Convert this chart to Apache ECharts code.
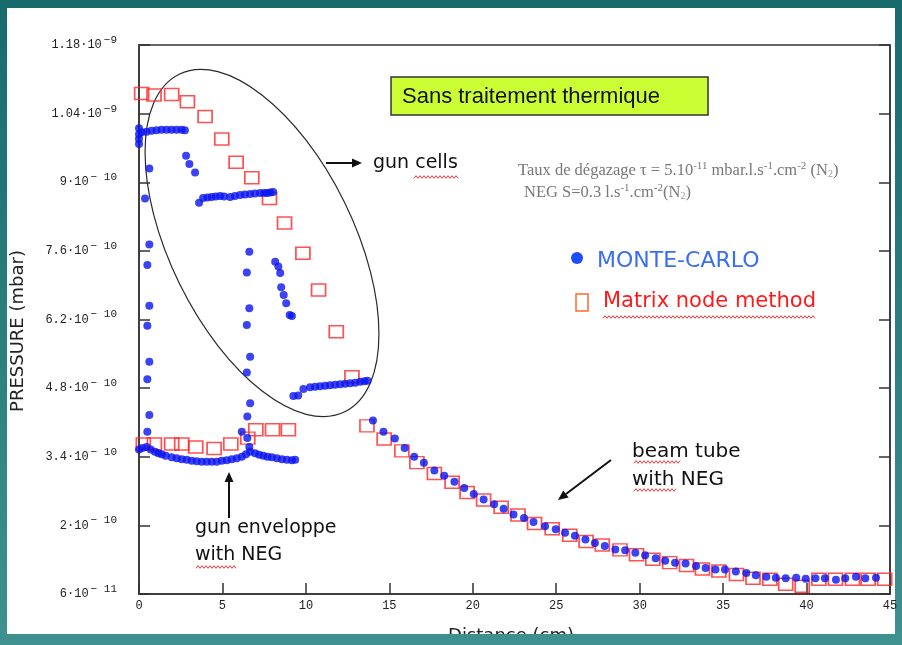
<!DOCTYPE html>
<html><head><meta charset="utf-8">
<script src="https://cdn.jsdelivr.net/npm/echarts@6/dist/echarts.min.js"></script>
<style>
html,body{margin:0;padding:0;width:902px;height:645px;overflow:hidden;}
body{background:linear-gradient(#176b6d,#3e918f);position:relative;}
#paper{position:absolute;left:7px;top:8px;width:888px;height:626px;background:#fff;}
#chart{position:absolute;left:0;top:0;width:902px;height:645px;}
#band{position:absolute;left:0;top:634px;width:902px;height:11px;background:linear-gradient(#176b6d,#3e918f);background-size:902px 645px;background-position:0 -634px;}
</style></head><body>
<div id="paper"></div><div id="chart"></div><div id="band"></div>
<script>
// Distances in cm, pressures in units of 1e-10 mbar
// MONTE-CARLO, gun region (cells + envelope)
const mcGunDistance = [0,0,0,0,
  0.15,0.45,0.75,1.05,1.35,1.65,1.95,2.25,2.55,2.75,
  2.82,3.02,3.36,
  3.60,3.84,4.10,4.35,4.60,4.86,5.10,5.46,5.75,6.06,6.35,6.66,6.95,7.26,7.50,7.68,7.86,8.04,
  0.62,0.36,0.62,0.50,0.62,0.50,0.62,0.50,0.62,0.50,
  0.00,0.20,0.46,0.70,0.96,1.16,1.36,1.60,1.96,2.26,2.56,2.86,3.16,3.46,3.76,4.06,4.36,4.66,4.96,5.26,5.56,5.86,6.16,6.41,6.66,6.96,7.20,7.45,7.70,7.96,8.26,8.56,8.86,9.16,9.36,
  6.61,6.46,6.61,6.46,6.66,6.46,6.66,6.49,6.16,6.49,6.61,
  8.16,8.35,8.46,8.52,8.67,8.82,9.03,9.16,
  9.25,9.54,9.85,10.25,10.55,10.85,11.15,11.45,11.75,12.05,12.35,12.65,12.95,13.25,13.50,13.69];
const mcGunPressure = [10.10,9.98,9.88,9.78,
  10.02,10.03,10.05,10.06,10.07,10.07,10.07,10.07,10.07,10.06,
  9.54,9.37,9.20,
  8.58,8.68,8.69,8.70,8.71,8.72,8.71,8.70,8.72,8.74,8.75,8.76,8.77,8.78,8.78,8.78,8.79,8.80,
  9.28,8.67,7.73,7.31,6.48,6.07,5.34,4.98,4.25,3.91,
  3.55,3.58,3.60,3.55,3.50,3.47,3.45,3.42,3.39,3.37,3.35,3.34,3.32,3.31,3.30,3.30,3.30,3.30,3.32,3.33,3.35,3.37,3.40,3.45,3.50,3.47,3.44,3.42,3.40,3.39,3.37,3.35,3.34,3.33,3.34,
  7.58,7.16,6.43,6.09,5.44,5.12,4.49,4.22,3.91,3.78,3.60,
  7.38,7.28,7.15,6.86,6.70,6.53,6.29,6.27,
  4.64,4.65,4.78,4.82,4.83,4.84,4.85,4.86,4.87,4.88,4.89,4.90,4.91,4.93,4.94,4.95];
// MONTE-CARLO, beam tube
const mcTubeDistance = [14.02,14.65,15.33,15.92,16.49,17.07,17.70,18.29,18.90,19.49,20.06,20.65,21.28,21.85,22.44,23.07,23.64,24.33,24.97,25.53,26.12,26.75,27.32,27.91,28.54,29.13,29.74,30.33,30.96,31.53,32.12,32.75,33.38,33.95,34.54,35.11,35.76,36.39,36.96,37.59,38.16,38.75,39.38,39.95,40.53,41.10,41.76,42.32,42.96,43.52,44.16];
const mcTubePressure = [4.14,3.91,3.77,3.58,3.40,3.28,3.12,3.01,2.89,2.76,2.64,2.53,2.43,2.34,2.22,2.15,2.07,1.98,1.92,1.85,1.79,1.71,1.64,1.58,1.51,1.49,1.44,1.39,1.33,1.28,1.24,1.22,1.17,1.13,1.10,1.10,1.06,1.03,0.98,0.95,0.93,0.92,0.93,0.91,0.92,0.92,0.89,0.92,0.95,0.92,0.93];
// Matrix node method
const mnCellDistance = [0.16,0.90,1.96,2.90,3.96,4.96,5.82,6.76,7.82,8.72,9.82,10.76,11.82,12.76];
const mnCellPressure = [10.81,10.78,10.79,10.64,10.34,9.88,9.41,9.09,8.67,8.17,7.55,6.80,5.95,5.03];
const mnEnvDistance = [0.26,0.92,1.96,2.56,3.40,4.50,5.50,6.52,7.00,8.00,8.95];
const mnEnvPressure = [3.66,3.66,3.66,3.66,3.60,3.57,3.66,3.78,3.95,3.95,3.95];
const mnTubeDistance = [13.66,14.69,15.75,16.65,17.70,18.76,19.66,20.65,21.70,22.71,23.70,24.76,25.81,26.79,27.76,28.82,29.81,30.79,31.80,32.81,33.76,34.75,35.80,36.79,37.80,38.75,39.74,40.74,41.73,42.75,43.69,44.68];
const mnTubePressure = [4.03,3.76,3.52,3.28,3.06,2.88,2.67,2.52,2.37,2.21,2.04,1.93,1.80,1.67,1.60,1.50,1.40,1.31,1.24,1.18,1.11,1.07,1.00,0.92,0.90,0.80,0.76,0.90,0.90,0.90,0.90,0.90];
// Axis ticks
const yTickValues = [0.6,2.0,3.4,4.8,6.2,7.6,9.0,10.4,11.8];
const yTickMantissa = ['6','2','3.4','4.8','6.2','7.6','9','1.04','1.18'];
const yTickExponent = ['\u2212 11','\u2212 10','\u2212 10','\u2212 10','\u2212 10','\u2212 10','\u2212 10','\u22129','\u22129'];
const xTickValues = [0,5,10,15,20,25,30,35,40,45];

function pairs(xs, ys){ return xs.map((x,i)=>[x, ys[i]]); }
const mcData = pairs(mcGunDistance, mcGunPressure).concat(pairs(mcTubeDistance, mcTubePressure));
const mnData = pairs(mnCellDistance, mnCellPressure).concat(pairs(mnEnvDistance, mnEnvPressure), pairs(mnTubeDistance, mnTubePressure));

function squiggle(x0, x1, y){
  const pts = []; let k = 0;
  for (let x = x0; x <= x1; x += 2){ pts.push([x, y + (k % 2 ? -1.3 : 1.3)]); k++; }
  return {type:'polyline', shape:{points:pts}, style:{stroke:'#e82020', lineWidth:0.9, fill:null}, silent:true};
}
function arrow(x1,y1,x2,y2){
  const a = Math.atan2(y2-y1, x2-x1), L = 10, W = 4.5;
  const bx = x2 - L*Math.cos(a), by = y2 - L*Math.sin(a);
  return [
    {type:'line', shape:{x1:x1,y1:y1,x2:bx,y2:by}, style:{stroke:'#111', lineWidth:2}},
    {type:'polygon', shape:{points:[[x2,y2],[bx - W*Math.sin(a), by + W*Math.cos(a)],[bx + W*Math.sin(a), by - W*Math.cos(a)]]}, style:{fill:'#111'}}
  ];
}
const hand = '"DejaVu Sans", sans-serif';
const serifRich = {t:{font:'16.5px "Liberation Serif", serif', fill:'#777'}, s:{font:'11px "Liberation Serif", serif', fill:'#777', padding:[0,0,9,0]}, b:{font:'10px "Liberation Serif", serif', fill:'#999', padding:[7,0,0,0]}};
const graphics = [
  {type:'ellipse', x:262, y:243, rotation:0.456, shape:{cx:0, cy:0, rx:92, ry:188}, style:{fill:null, stroke:'#2a2a2a', lineWidth:1.2}},
  {type:'rect', shape:{x:391, y:77, width:317, height:38}, style:{fill:'#ccff33', stroke:'#333', lineWidth:1.5}},
  {type:'text', x:402, y:97, style:{text:'Sans traitement thermique', font:'22px "Liberation Sans", Arial, sans-serif', fill:'#111', verticalAlign:'middle'}},
  ...arrow(326,163,362,163),
  {type:'text', x:373, y:163, style:{text:'gun cells', font:'19px ' + hand, fill:'#111', verticalAlign:'middle'}},
  squiggle(414, 458, 177),
  {type:'text', x:518, y:171, style:{rich:serifRich,
    text:'{t|Taux de dégazage \u03c4 = 5.10}{s|-11}{t| mbar.l.s}{s|-1}{t|.cm}{s|-2}{t| (N}{b|2}{t|)}', verticalAlign:'middle'}},
  {type:'text', x:524, y:193, style:{rich:serifRich,
    text:'{t|NEG S=0.3 l.s}{s|-1}{t|.cm}{s|-2}{t|(N}{b|2}{t|)}', verticalAlign:'middle'}},
  {type:'circle', shape:{cx:577, cy:258, r:6}, style:{fill:'#1f4cff'}},
  {type:'text', x:597, y:261, style:{text:'MONTE-CARLO', font:'22px ' + hand, fill:'#3a6df5', verticalAlign:'middle'}},
  {type:'rect', shape:{x:576, y:294, width:12, height:17}, style:{fill:null, stroke:'#ff6a2a', lineWidth:1.5}},
  {type:'text', x:603, y:302, style:{text:'Matrix node method', font:'21px ' + hand, fill:'#ff1a1a', verticalAlign:'middle'}},
  squiggle(603, 815, 317),
  {type:'text', x:632, y:452, style:{text:'beam tube', font:'20px ' + hand, fill:'#111', verticalAlign:'middle'}},
  squiggle(634, 680, 462),
  {type:'text', x:632, y:480, style:{text:'with NEG', font:'20px ' + hand, fill:'#111', verticalAlign:'middle'}},
  squiggle(634, 676, 490),
  ...arrow(611,460,558,500),
  {type:'text', x:195, y:528, style:{text:'gun enveloppe', font:'19px ' + hand, fill:'#111', verticalAlign:'middle'}},
  {type:'text', x:195, y:555, style:{text:'with NEG', font:'19px ' + hand, fill:'#111', verticalAlign:'middle'}},
  squiggle(196, 236, 567),
  ...arrow(229,518,229,472),
  {type:'text', x:18, y:331, rotation:Math.PI/2, style:{text:'PRESSURE (mbar)', font:'18px ' + hand, fill:'#222', align:'center', verticalAlign:'middle'}},
  {type:'text', x:511, y:636, style:{text:'Distance (cm)', font:'18px ' + hand, fill:'#222', align:'center', verticalAlign:'middle'}}
];

const chart = echarts.init(document.getElementById('chart'), null, {renderer:'canvas'});
const yAxisBase = {
  type:'value', min:0.6, max:11.8,
  axisLine:{show:true, lineStyle:{color:'#333', width:1.5}},
  axisTick:{show:true, inside:true, length:11, customValues:yTickValues, lineStyle:{color:'#333', width:1.5}},
  splitLine:{show:false}
};
chart.setOption({
  animation:false,
  backgroundColor:'transparent',
  grid:{left:139, right:12, top:45, bottom:51, show:true, borderColor:'#333', borderWidth:1.5, backgroundColor:'transparent'},
  xAxis:{type:'value', min:0, max:45, interval:5,
    axisLine:{show:true, onZero:false, lineStyle:{color:'#333', width:1.5}},
    axisTick:{show:true, inside:true, length:11, lineStyle:{color:'#333', width:1.5}},
    axisLabel:{margin:6, fontFamily:'"Liberation Mono", monospace', fontSize:12, color:'#222', customValues:xTickValues},
    splitLine:{show:false}},
  yAxis:[
    Object.assign({}, yAxisBase, {position:'left',
      axisLabel:{margin:22, customValues:yTickValues,
        formatter:function(v){
          let i = yTickValues.findIndex(t => Math.abs(t - v) < 0.01);
          if (i < 0) return '';
          return '{m|' + yTickMantissa[i] + '\u00b710}{e|' + yTickExponent[i] + '}';
        },
        rich:{m:{fontFamily:'"Liberation Mono", monospace', fontSize:12, color:'#222'},
              e:{fontFamily:'"Liberation Mono", monospace', fontSize:11, color:'#222', padding:[0,0,10,2]}}}}),
    Object.assign({}, yAxisBase, {position:'right', axisLabel:{show:false}})
  ],
  series:[
    {name:'Matrix node method', type:'scatter', data:mnData, symbol:'rect', symbolSize:[14,12], clip:false, silent:true,
      itemStyle:{color:'rgba(255,255,255,0)', borderColor:'#ff2626', borderWidth:1.6}},
    {name:'MONTE-CARLO', type:'scatter', data:mcData, symbol:'circle', symbolSize:8, clip:false, silent:true,
      itemStyle:{color:'#0a14f0'}}
  ],
  graphic:graphics
});
</script></body></html>
